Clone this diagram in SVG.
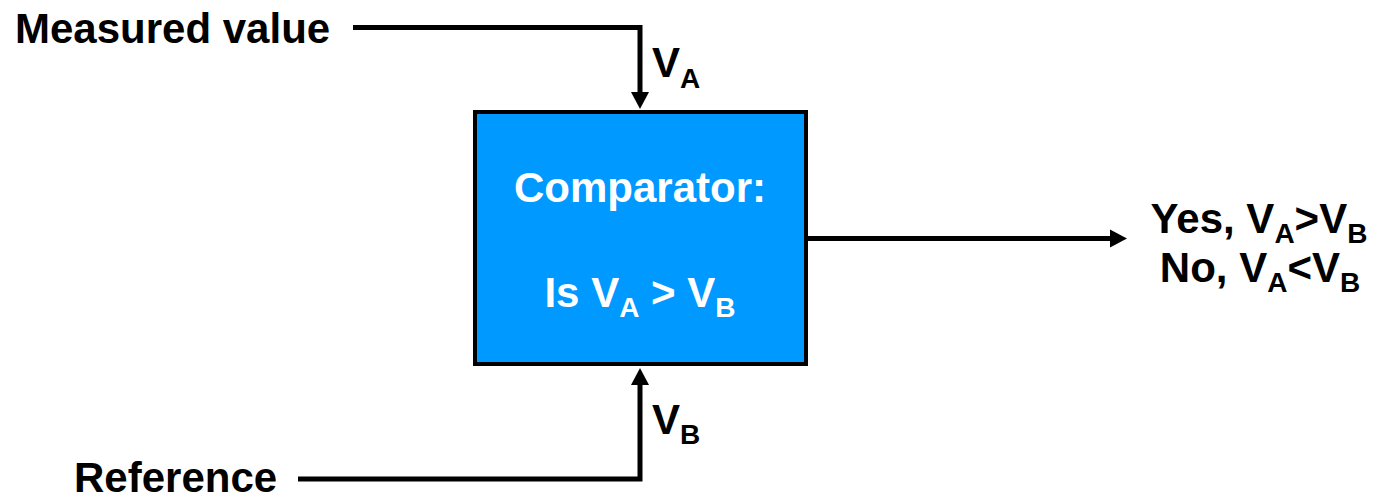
<svg xmlns="http://www.w3.org/2000/svg" width="1378" height="501" viewBox="0 0 1378 501">
  <style>
    .lbl { font-family: "Liberation Sans", Arial, sans-serif; font-weight: bold; font-size: 42px; fill: #000; }
    .white { fill: #fff; }
    .sub { font-size: 28px; }
    .wire { fill: none; stroke: #000; stroke-width: 5; stroke-linejoin: miter; }
  </style>
  <defs>
    <marker id="arrow" markerUnits="userSpaceOnUse" markerWidth="17" markerHeight="18" refX="0" refY="9" orient="auto" overflow="visible">
      <path d="M0,0 L17,9 L0,18 Z" fill="#000"/>
    </marker>
  </defs>
  <rect width="1378" height="501" fill="#fff"/>

  <g id="connectors">
    <path class="wire" d="M353 27.5 H640 V92" marker-end="url(#arrow)"/>
    <path class="wire" d="M298 479 H640 V385" marker-end="url(#arrow)"/>
    <path class="wire" d="M808 238.5 H1110" marker-end="url(#arrow)"/>
  </g>

  <g id="measured">
    <text class="lbl" x="15" y="43">Measured value</text>
  </g>
  <g id="reference">
    <text class="lbl" x="74" y="492">Reference</text>
  </g>
  <g id="label-va">
    <text class="lbl" x="652" y="77">V<tspan class="sub" dy="11">A</tspan></text>
  </g>
  <g id="label-vb">
    <text class="lbl" x="652" y="434">V<tspan class="sub" dy="10">B</tspan></text>
  </g>

  <g id="comparator">
    <rect x="475" y="112" width="331" height="252" fill="#0099ff" stroke="#000" stroke-width="4"/>
    <text class="lbl white" x="640" y="202" text-anchor="middle">Comparator:</text>
    <text class="lbl white" x="640" y="307" text-anchor="middle">Is V<tspan class="sub" dy="10">A</tspan><tspan dy="-10"> &gt; V</tspan><tspan class="sub" dy="10">B</tspan></text>
  </g>

  <g id="output">
    <text class="lbl" x="1259" y="233" text-anchor="middle">Yes, V<tspan class="sub" dy="10">A</tspan><tspan dy="-10">&gt;V</tspan><tspan class="sub" dy="10">B</tspan></text>
    <text class="lbl" x="1260" y="282" text-anchor="middle">No, V<tspan class="sub" dy="10">A</tspan><tspan dy="-10">&lt;V</tspan><tspan class="sub" dy="10">B</tspan></text>
  </g>
</svg>
